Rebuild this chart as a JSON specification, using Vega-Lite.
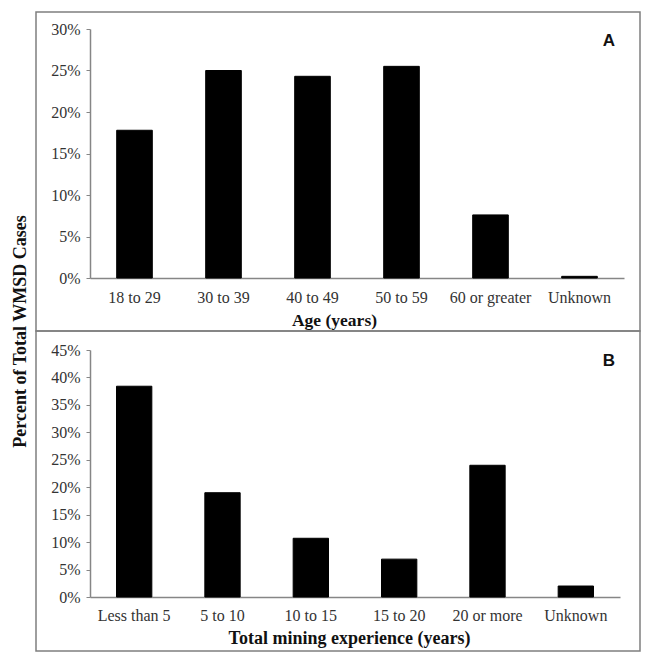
{
  "$schema": "https://vega.github.io/schema/vega-lite/v6.json",
  "background": "white",
  "padding": {"left": 10, "top": 11, "right": 5, "bottom": 5},
  "spacing": 0,
  "bounds": "flush",
  "config": {
    "view": {"stroke": "#7f7f7f", "strokeWidth": 1.5},
    "axis": {
      "labelFont": "Liberation Serif",
      "labelFontSize": 16,
      "labelColor": "#333333",
      "titleFont": "Liberation Serif",
      "titleFontSize": 17.5,
      "titleFontWeight": "bold",
      "titleColor": "#111111",
      "domainColor": "#868686",
      "domainWidth": 1.5,
      "tickColor": "#868686",
      "grid": false
    }
  },
  "vconcat": [
    {
      "width": 604,
      "height": 319,
      "data": {"values": [
        {"cat": "18 to 29", "pct": 17.8},
        {"cat": "30 to 39", "pct": 25.0},
        {"cat": "40 to 49", "pct": 24.3},
        {"cat": "50 to 59", "pct": 25.5},
        {"cat": "60 or greater", "pct": 7.6},
        {"cat": "Unknown", "pct": 0.2}
      ]},
      "title": {"text": "A", "anchor": "end", "frame": "group", "font": "Liberation Sans", "fontWeight": "bold", "fontSize": 17, "color": "#111111", "dx": -25, "dy": 42},
      "mark": {"type": "bar", "color": "black", "stroke": "black", "strokeWidth": 1},
      "encoding": {
        "x": {
          "field": "cat", "type": "nominal", "sort": null,
          "scale": {"range": [54, 588], "paddingInner": 0.6, "paddingOuter": 0.3},
          "axis": {"title": "Age (years)", "offset": -53, "labelAngle": 0, "ticks": false, "labelPadding": 11,
                   "titleX": 298, "titleY": 47, "titleBaseline": "alphabetic", "titleAlign": "center"}
        },
        "y": {
          "field": "pct", "type": "quantitative",
          "scale": {"domain": [0, 30], "range": [266, 17], "nice": false},
          "axis": {"values": [0, 5, 10, 15, 20, 25, 30], "labelExpr": "datum.value + '%'", "offset": -54,
                   "tickSize": 4, "labelPadding": 6,
                   "title": "Percent of Total WMSD Cases", "titleX": -70, "titleY": 319, "titleAngle": -90,
                   "titleFontSize": 18, "titleAlign": "center", "titleBaseline": "middle"}
        }
      }
    },
    {
      "width": 604,
      "height": 320,
      "data": {"values": [
        {"cat": "Less than 5", "pct": 38.4},
        {"cat": "5 to 10", "pct": 19.0},
        {"cat": "10 to 15", "pct": 10.7},
        {"cat": "15 to 20", "pct": 6.9},
        {"cat": "20 or more", "pct": 24.0},
        {"cat": "Unknown", "pct": 2.0}
      ]},
      "title": {"text": "B", "anchor": "end", "frame": "group", "font": "Liberation Sans", "fontWeight": "bold", "fontSize": 17, "color": "#111111", "dx": -25, "dy": 43},
      "mark": {"type": "bar", "color": "black", "stroke": "black", "strokeWidth": 1},
      "encoding": {
        "x": {
          "field": "cat", "type": "nominal", "sort": null,
          "scale": {"range": [54, 584], "paddingInner": 0.6, "paddingOuter": 0.3},
          "axis": {"title": "Total mining experience (years)", "offset": -54, "labelAngle": 0, "ticks": false, "labelPadding": 10,
                   "titleX": 313, "titleY": 46, "titleBaseline": "alphabetic", "titleAlign": "center", "titleFontSize": 18}
        },
        "y": {
          "field": "pct", "type": "quantitative",
          "scale": {"domain": [0, 45], "range": [266, 19], "nice": false},
          "axis": {"values": [0, 5, 10, 15, 20, 25, 30, 35, 40, 45], "labelExpr": "datum.value + '%'", "offset": -54,
                   "tickSize": 4, "labelPadding": 6, "title": null}
        }
      }
    }
  ]
}
